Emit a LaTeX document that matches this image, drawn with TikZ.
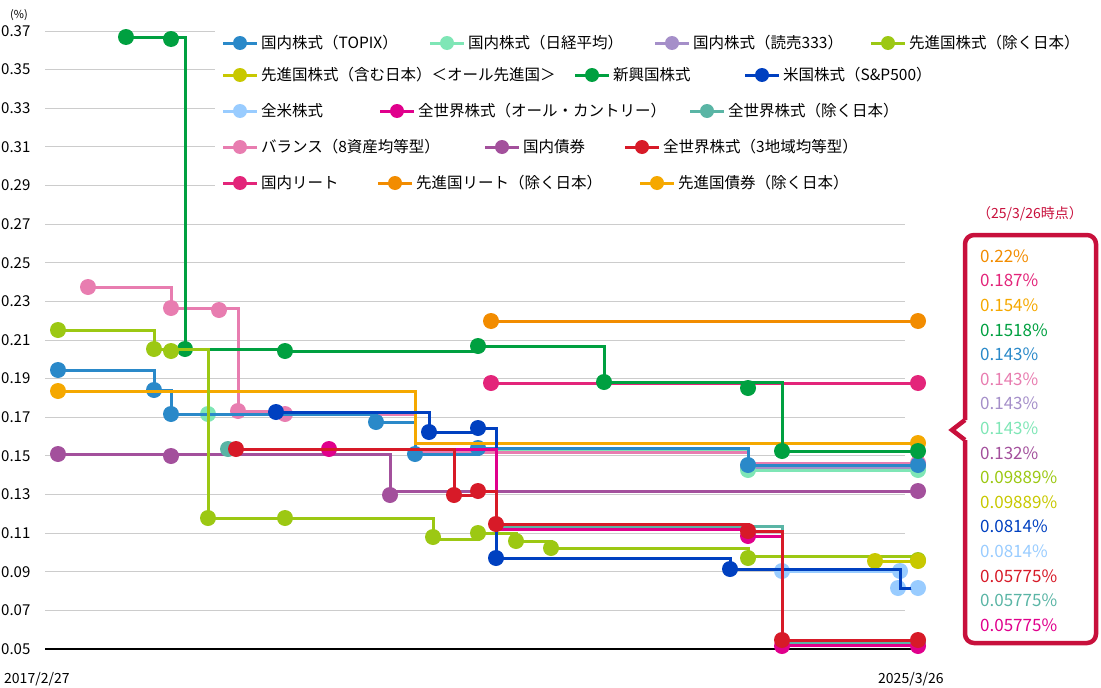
\documentclass[tikz,border=0pt]{standalone}
\usepackage{fontspec}
\setmainfont{Noto Sans CJK JP}
\begin{document}
\definecolor{topix}{HTML}{2A89C9}\definecolor{nikkei}{HTML}{7FE6B6}\definecolor{yomi}{HTML}{A58FC9}
\definecolor{devx}{HTML}{9CC813}\definecolor{devall}{HTML}{C8C800}\definecolor{emerg}{HTML}{00A040}
\definecolor{sp}{HTML}{0040C0}\definecolor{allus}{HTML}{99CCFF}\definecolor{acwi}{HTML}{E0008C}
\definecolor{acwix}{HTML}{5AB5A5}\definecolor{bal}{HTML}{E87DB0}\definecolor{jbond}{HTML}{A3509C}
\definecolor{rthree}{HTML}{D71A28}\definecolor{jreit}{HTML}{E3257A}\definecolor{dreit}{HTML}{F28C00}
\definecolor{dbond}{HTML}{F5A800}\definecolor{callout}{HTML}{C8103C}
\newcommand\myser[3]{\draw[line width=3pt,#1] #2;
  \foreach \xx/\yy in {#3} \fill[#1] (\xx,\yy) circle (8pt);}
\begin{tikzpicture}[x=1pt,y=-1pt,font=\fontsize{15.5}{18}\selectfont]
\useasboundingbox (0,0) rectangle (1101,688);
% grid
\foreach \i/\l in {0/0.37,1/0.35,2/0.33,3/0.31,4/0.29,5/0.27,6/0.25,7/0.23,8/0.21,9/0.19,10/0.17,11/0.15,12/0.13,13/0.11,14/0.09,15/0.07,16/0.05}{
  \draw[gray!40,line width=1pt] (45,31+\i*38.625) -- (905,31+\i*38.625);
  \node[anchor=west,inner sep=0pt,font=\fontsize{15}{18}\selectfont] at (1,31+\i*38.625) {\l};}
\draw[black,line width=1.2pt] (45,649) -- (918,649);
\node[anchor=west,inner sep=0pt,font=\fontsize{11}{13}\selectfont] at (10,15) {(\%)};
\node[anchor=west,inner sep=0pt,font=\fontsize{14}{16}\selectfont] at (4,679) {2017/2/27};
\node[anchor=west,inner sep=0pt,font=\fontsize{14}{16}\selectfont] at (878,679) {2025/3/26};
% series
\myser{allus}{(782,571) -| (900,588) -- (918,588)}{782/571,900/571,898/588,918/588}
\myser{yomi}{(748,467) -- (918,467)}{748/467,918/467}
\myser{nikkei}{(208,414) -| (415,452) -| (478,451) -| (748,470) -- (918,470)}{208/414,748/470,918/470}
\myser{bal}{(88,287) -| (171,308) -| (238,411) -| (285,414) -| (415,452) -| (748,463) -- (918,463)}{88/287,171/308,219/310,238/411,285/414,918/463}
\myser{topix}{(58,370) -| (154,390) -| (171,414) -| (376,422) -| (415,454) -| (478,448) -| (748,465) -- (918,465)}{58/370,154/390,171/414,376/422,415/454,478/448,748/465,918/465}
\myser{dbond}{(58,391) -| (415,443) -- (918,443)}{58/391,918/443}
\myser{jbond}{(58,454) -| (390,491) -- (918,491)}{58/454,171/456,390/495,918/491}
\myser{dreit}{(491,321) -- (918,321)}{491/321,918/321}
\myser{jreit}{(491,383) -- (918,383)}{491/383,918/383}
\myser{emerg}{(126,37) -| (185,349) -| (285,351) -| (478,346) -| (604,382) -| (782,451) -- (918,451)}{126/37,171/39,185/349,285/351,478/346,604/382,748/388,782/451,918/451}
\myser{devx}{(58,330) -| (154,349) -| (208,518) -| (433,539) -| (478,533) -| (516,541) -| (551,548) -| (748,556) -- (918,556)}{58/330,154/349,171/351,208/518,285/518,433/537,478/533,516/541,551/548,748/558,918/560}
\myser{devall}{(875,561) -- (918,561)}{875/561,918/561}
\myser{sp}{(276,412) -| (429,432) -| (478,428) -| (496,558) -| (730,569) -| (900,588) -- (918,588)}{276/412,429/432,478/428,496/558,730/569}
\fill[allus] (918,588) circle (7pt);
\myser{acwix}{(228,449) -| (496,526) -| (782,642) -- (918,642)}{228/449,918/642}
\myser{acwi}{(329,449) -| (496,529) -| (748,536) -| (782,645) -- (918,645)}{329/449,748/536,782/646,918/646}
\myser{rthree}{(236,449) -| (454,495) -| (478,491) -| (496,524) -| (748,531) -| (782,640) -- (918,640)}{236/449,454/495,478/491,496/524,748/531,782/640,918/640}
% legend
\fill[white] (215,28) rectangle (1095,200);
\foreach \mx/\my/\c/\t in {
 240/43/topix/国内株式（TOPIX）, 447/43/nikkei/国内株式（日経平均）, 672/43/yomi/国内株式（読売333）, 888/43/devx/先進国株式（除く日本）,
 240/75/devall/先進国株式（含む日本）＜オール先進国＞, 592/75/emerg/新興国株式, 762/75/sp/米国株式（S\&P500）,
 240/111/allus/全米株式, 397/111/acwi/全世界株式（オール・カントリー）, 707/111/acwix/全世界株式（除く日本）,
 240/147/bal/バランス（8資産均等型）, 502/147/jbond/国内債券, 642/147/rthree/全世界株式（3地域均等型）,
 240/183/jreit/国内リート, 395/183/dreit/先進国リート（除く日本）, 657/183/dbond/先進国債券（除く日本）}{
 \draw[\c,line width=3pt] (\mx-17,\my) -- (\mx+17,\my);
 \fill[\c] (\mx,\my) circle (7pt);
 \node[anchor=west,inner sep=0pt] at (\mx+21,\my) {\t};}
% callout
\node[text=callout,font=\fontsize{14}{16}\selectfont] at (1030,214) {（25/3/26時点）};
\draw[callout,line width=4.5pt,rounded corners=9pt] (965,420) -- (965,235) -- (1096,235) -- (1096,643) -- (965,643) -- (965,440);
\draw[callout,line width=4.5pt,line join=miter] (965,420) -- (952,430) -- (965,440);
\foreach \i/\c/\t in {0/dreit/0.22\%,1/jreit/0.187\%,2/dbond/0.154\%,3/emerg/0.1518\%,4/topix/0.143\%,5/bal/0.143\%,6/yomi/0.143\%,7/nikkei/0.143\%,8/jbond/0.132\%,9/devx/0.09889\%,10/devall/0.09889\%,11/sp/0.0814\%,12/allus/0.0814\%,13/rthree/0.05775\%,14/acwix/0.05775\%,15/acwi/0.05775\%}
 \node[anchor=west,inner sep=0pt,text=\c,font=\fontsize{17}{19}\selectfont] at (980,256+\i*24.6) {\t};
\end{tikzpicture}
\end{document}
